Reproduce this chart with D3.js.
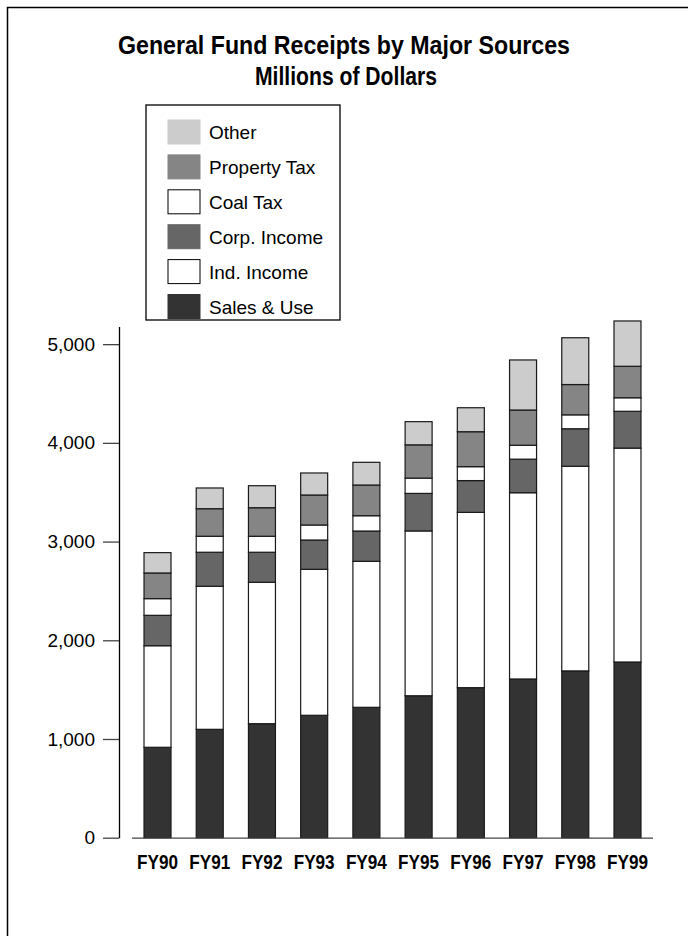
<!DOCTYPE html>
<html>
<head>
<meta charset="utf-8">
<script src="https://cdn.jsdelivr.net/npm/d3@7"></script>
<style>
  html, body { margin: 0; padding: 0; background: #fff; }
  svg { display: block; }
  .title { font-family: "Liberation Sans", Arial, sans-serif; font-weight: bold; font-size: 26px; fill: #000; }
  .legend text { font-family: "Liberation Sans", Arial, sans-serif; font-size: 19px; fill: #000; }
  .y-axis text { font-family: "Liberation Sans", Arial, sans-serif; font-size: 19px; fill: #000; }
  .x-label { font-family: "Liberation Sans", Arial, sans-serif; font-weight: bold; font-size: 21px; fill: #000; }
</style>
</head>
<body>
<div id="chart"></div>
<script>
// Fiscal years
const years = ['FY90', 'FY91', 'FY92', 'FY93', 'FY94', 'FY95', 'FY96', 'FY97', 'FY98', 'FY99'];

// Series values, millions of dollars
const salesUse    = [916, 1098, 1155, 1240, 1321, 1438, 1520, 1608, 1690, 1780];
const indIncome   = [1029, 1449, 1433, 1479, 1479, 1670, 1776, 1887, 2073, 2167];
const corpIncome  = [308, 345, 304, 297, 307, 380, 322, 340, 380, 373];
const coalTax     = [169, 162, 162, 152, 155, 155, 141, 141, 141, 137];
const propertyTax = [260, 279, 289, 304, 311, 337, 354, 357, 307, 319];
const other       = [206, 210, 223, 223, 230, 235, 243, 507, 474, 459];

// Stack order, bottom to top
const seriesKeys = ['Sales & Use', 'Ind. Income', 'Corp. Income', 'Coal Tax', 'Property Tax', 'Other'];
const seriesValues = [salesUse, indIncome, corpIncome, coalTax, propertyTax, other];
const seriesColors = ['#333333', '#ffffff', '#666666', '#ffffff', '#858585', '#cccccc'];

const yTicks = [0, 1000, 2000, 3000, 4000, 5000];

const W = 688, H = 936;

const svg = d3.select('#chart')
  .append('svg')
  .attr('width', W)
  .attr('height', H);

// outer frame
svg.append('rect')
  .attr('x', 7.5).attr('y', 7.5)
  .attr('width', W + 10).attr('height', H + 10)
  .attr('fill', 'none')
  .attr('stroke', '#000')
  .attr('stroke-width', 1.5);

// Title (condensed bold look)
svg.append('text').attr('class', 'title')
  .attr('x', 344).attr('y', 54)
  .attr('text-anchor', 'middle')
  .attr('textLength', 452)
  .attr('lengthAdjust', 'spacingAndGlyphs')
  .text('General Fund Receipts by Major Sources');
svg.append('text').attr('class', 'title')
  .attr('x', 346).attr('y', 85)
  .attr('text-anchor', 'middle')
  .attr('textLength', 182)
  .attr('lengthAdjust', 'spacingAndGlyphs')
  .text('Millions of Dollars');

// build table rows for d3.stack
const table = years.map((yr, i) => {
  const row = { year: yr };
  seriesKeys.forEach((k, j) => { row[k] = seriesValues[j][i]; });
  return row;
});

const stacked = d3.stack().keys(seriesKeys)(table);

const x = d3.scaleBand()
  .domain(years)
  .range([132, 653])
  .paddingInner(0.483)
  .paddingOuter(0.23);

const y = d3.scaleLinear()
  .domain([0, 5180])
  .range([837.7, 326.4]);

const color = d3.scaleOrdinal().domain(seriesKeys).range(seriesColors);

// Y axis
const yAxis = svg.append('g')
  .attr('class', 'y-axis')
  .attr('transform', 'translate(119,0)')
  .call(d3.axisLeft(y)
    .tickValues(yTicks)
    .tickSize(16)
    .tickSizeOuter(0)
    .tickPadding(8)
    .tickFormat(d3.format(',')));
yAxis.select('.domain').attr('stroke', '#000').attr('stroke-width', 1.3);
yAxis.selectAll('.tick line').attr('stroke', '#444').attr('stroke-width', 1.3);

// Bars
svg.append('g')
  .selectAll('g')
  .data(stacked)
  .join('g')
  .attr('fill', d => color(d.key))
  .selectAll('rect')
  .data(d => d)
  .join('rect')
  .attr('x', d => x(d.data.year))
  .attr('y', d => y(d[1]))
  .attr('width', x.bandwidth())
  .attr('height', d => y(d[0]) - y(d[1]))
  .attr('stroke', '#1a1a1a')
  .attr('stroke-width', 1.2);

// Baseline
svg.append('line')
  .attr('x1', x.range()[0]).attr('x2', x.range()[1])
  .attr('y1', y(0) + 0.5).attr('y2', y(0) + 0.5)
  .attr('stroke', '#444')
  .attr('stroke-width', 1.3);

// X labels
svg.append('g')
  .selectAll('text')
  .data(years)
  .join('text')
  .attr('class', 'x-label')
  .attr('x', d => x(d) + x.bandwidth() / 2)
  .attr('y', 869)
  .attr('text-anchor', 'middle')
  .attr('textLength', 41)
  .attr('lengthAdjust', 'spacingAndGlyphs')
  .text(d => d);

// Legend (top to bottom: reverse of stack order)
const legendItems = seriesKeys.slice().reverse();
const legend = svg.append('g').attr('class', 'legend');
legend.append('rect')
  .attr('x', 146).attr('y', 105)
  .attr('width', 194).attr('height', 215)
  .attr('fill', '#fff')
  .attr('stroke', '#000')
  .attr('stroke-width', 1.3);

const ly = d3.scalePoint().domain(legendItems).range([120, 294.5]);

const li = legend.selectAll('g.item')
  .data(legendItems)
  .join('g')
  .attr('class', 'item')
  .attr('transform', d => `translate(168,${ly(d)})`);

li.append('rect')
  .attr('width', 32).attr('height', 24)
  .attr('fill', d => color(d))
  .attr('stroke', d => color(d) === '#ffffff' ? '#000' : color(d))
  .attr('stroke-width', 1);

li.append('text')
  .attr('x', 41)
  .attr('y', 19)
  .text(d => d);
</script>
</body>
</html>
